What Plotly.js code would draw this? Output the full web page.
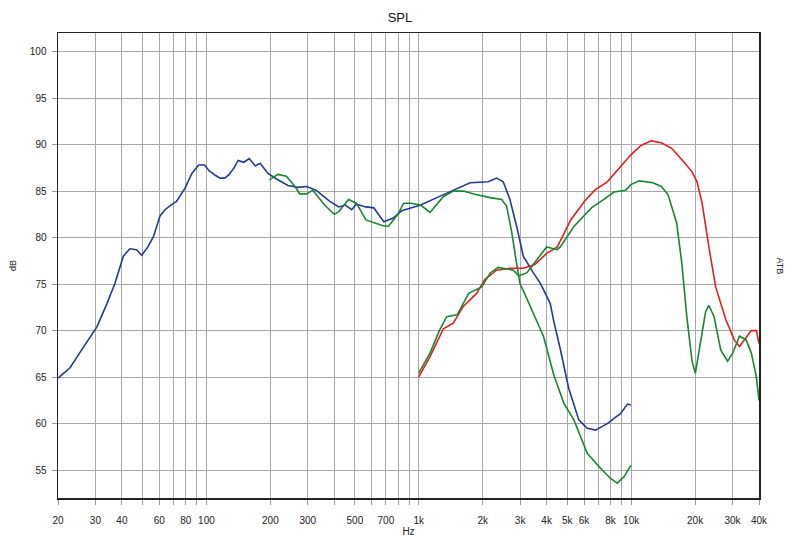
<!DOCTYPE html>
<html>
<head>
<meta charset="utf-8">
<script src="https://cdn.plot.ly/plotly-3.0.1.min.js"></script>
<style>html,body{margin:0;padding:0;background:#fff;}#chart{width:800px;height:547px;}</style>
</head>
<body>
<div id="chart"></div>
<script>
// Blue: woofer response
const blueFreq = [20, 22.8, 25.8, 30.5, 34, 37.1, 40.6, 43.6, 46.8, 49.6, 53, 56.3, 60.4, 63.8, 68, 72.3, 79.2, 85.4, 91.9, 98, 103, 110, 116, 122, 128, 135, 141, 150, 159, 170, 179, 195, 214, 242, 270, 296, 328, 381, 420, 451, 483, 508, 564, 614, 684, 758, 832, 924, 1020, 1216, 1453, 1744, 2124, 2325, 2498, 2686, 2890, 3105, 3463, 3730, 3865, 4160, 4313, 4640, 5080, 5670, 6210, 6800, 7720, 8930, 9610, 9970];
const blueDb   = [64.9, 66.0, 67.9, 70.4, 72.9, 75.1, 78.0, 78.8, 78.7, 78.1, 79.0, 80.1, 82.3, 83.0, 83.5, 83.9, 85.3, 86.9, 87.8, 87.8, 87.2, 86.7, 86.4, 86.4, 86.8, 87.5, 88.3, 88.1, 88.5, 87.7, 88.0, 86.9, 86.3, 85.6, 85.4, 85.5, 85.1, 83.9, 83.3, 83.5, 83.0, 83.6, 83.3, 83.2, 81.7, 82.1, 82.9, 83.2, 83.5, 84.3, 85.1, 85.9, 86.0, 86.4, 86.0, 84.1, 81.2, 78.0, 76.2, 75.1, 74.4, 72.9, 71.1, 68.0, 63.8, 60.4, 59.5, 59.3, 60.0, 61.1, 62.1, 62.0];

// Green 1: second woofer-range curve
const green1Freq = [198, 217, 238, 261, 275, 296, 317, 360, 400, 420, 467, 508, 564, 672, 719, 797, 849, 915, 1020, 1130, 1305, 1453, 1620, 1872, 2170, 2454, 2592, 2743, 2870, 3000, 3105, 3463, 3865, 4313, 4815, 5375, 6210, 7175, 8000, 8610, 9270, 9970];
const green1Db   = [86.2, 86.8, 86.6, 85.5, 84.7, 84.7, 85.1, 83.5, 82.5, 82.8, 84.1, 83.7, 81.9, 81.3, 81.2, 82.5, 83.7, 83.7, 83.5, 82.7, 84.4, 85.0, 85.0, 84.6, 84.3, 84.1, 83.4, 80.5, 77.6, 75.0, 74.3, 71.9, 69.4, 65.3, 62.2, 60.4, 56.8, 55.2, 54.1, 53.6, 54.3, 55.5];

// Red: tweeter response
const redFreq = [998, 1130, 1305, 1453, 1620, 1872, 2046, 2325, 2686, 3105, 3520, 4000, 4490, 4800, 5195, 6030, 6740, 7720, 8930, 9970, 11130, 12430, 13880, 15500, 17310, 19330, 20430, 21590, 23230, 25000, 27900, 30600, 32370, 34800, 36800, 38880, 40000];
const redDb   = [65.0, 67.2, 70.2, 70.8, 72.6, 74.0, 75.5, 76.5, 76.7, 76.7, 77.1, 78.3, 79.0, 80.3, 81.9, 83.9, 85.1, 86.0, 87.7, 88.9, 89.9, 90.4, 90.2, 89.6, 88.4, 87.1, 86.0, 83.7, 79.0, 74.7, 71.2, 69.0, 68.3, 69.2, 70.0, 70.0, 68.6];

// Green 2: second tweeter-range curve
const green2Freq = [998, 1130, 1250, 1354, 1516, 1717, 1978, 2170, 2366, 2794, 2950, 3225, 3590, 4000, 4490, 4640, 5375, 6500, 7440, 8300, 9420, 9970, 10910, 12660, 13880, 14930, 16370, 17310, 18290, 19330, 20060, 21200, 22400, 23230, 24570, 26430, 28460, 30110, 32370, 34800, 36800, 38880, 40000];
const green2Db   = [65.4, 67.6, 70.0, 71.5, 71.7, 74.0, 74.7, 76.2, 76.8, 76.5, 75.9, 76.2, 77.6, 79.0, 78.7, 79.0, 81.2, 83.2, 84.1, 84.9, 85.1, 85.7, 86.1, 85.9, 85.5, 84.6, 81.6, 77.3, 71.5, 66.8, 65.4, 68.6, 72.0, 72.7, 71.5, 67.9, 66.7, 67.6, 69.4, 69.0, 67.6, 65.0, 62.5];

// Axis ticks
const xTickVals = [20, 30, 40, 50, 60, 70, 80, 90, 100, 200, 300, 400, 500, 600, 700, 800, 900, 1000, 2000, 3000, 4000, 5000, 6000, 7000, 8000, 9000, 10000, 20000, 30000, 40000];
const xTickText = ['20', '30', '40', '', '60', '', '80', '', '100', '200', '300', '', '500', '', '700', '', '', '1k', '2k', '3k', '4k', '5k', '6k', '', '8k', '', '10k', '20k', '30k', '40k'];
const yTickVals = [55, 60, 65, 70, 75, 80, 85, 90, 95, 100];

const lineW = 1.6;
const traces = [
  {x: blueFreq, y: blueDb, type: 'scatter', mode: 'lines', line: {color: '#233a94', width: lineW}},
  {x: green1Freq, y: green1Db, type: 'scatter', mode: 'lines', line: {color: '#17882e', width: lineW}},
  {x: redFreq, y: redDb, type: 'scatter', mode: 'lines', line: {color: '#e41e1e', width: lineW}},
  {x: green2Freq, y: green2Db, type: 'scatter', mode: 'lines', line: {color: '#17882e', width: lineW}}
];

const font = {family: 'Liberation Sans, Arial, sans-serif', size: 10, color: '#222'};
const layout = {
  width: 800, height: 547,
  margin: {l: 58, r: 41, t: 33, b: 49},
  paper_bgcolor: '#fff', plot_bgcolor: '#fff',
  showlegend: false,
  font: font,
  title: {text: 'SPL', font: {family: 'Liberation Sans, Arial, sans-serif', size: 13, color: '#111'}, x: 0.5, xanchor: 'center', y: 1 - 17/547, yref: 'container', yanchor: 'middle'},
  xaxis: {
    type: 'log', range: [Math.log10(20), Math.log10(40000)],
    tickmode: 'array', tickvals: xTickVals, ticktext: xTickText,
    ticks: 'outside', ticklen: 5, tickcolor: '#999', tickwidth: 1,
    ticklabelstandoff: 7,
    showgrid: true, gridcolor: '#a8a8a8', gridwidth: 1,
    showline: true, linecolor: '#222', linewidth: 1.5, mirror: true,
    zeroline: false,
    title: {text: 'Hz', font: font, standoff: 1}
  },
  yaxis: {
    range: [52, 102],
    tickmode: 'array', tickvals: yTickVals,
    ticks: 'outside', ticklen: 5, tickcolor: '#999', tickwidth: 1,
    ticklabelstandoff: 3,
    showgrid: true, gridcolor: '#a8a8a8', gridwidth: 1,
    showline: true, linecolor: '#222', linewidth: 1.5, mirror: true,
    zeroline: false,
    title: {text: 'dB', font: {family: 'Liberation Sans, Arial, sans-serif', size: 9, color: '#222'}, standoff: 11}
  },
  annotations: [
    {text: 'ATB', xref: 'paper', yref: 'paper', x: 1, y: 0.5, xshift: 28, textangle: 90, showarrow: false, font: {family: 'Liberation Sans, Arial, sans-serif', size: 9, color: '#222'}}
  ]
};

Plotly.newPlot('chart', traces, layout, {staticPlot: true, displayModeBar: false});
</script>
</body>
</html>
